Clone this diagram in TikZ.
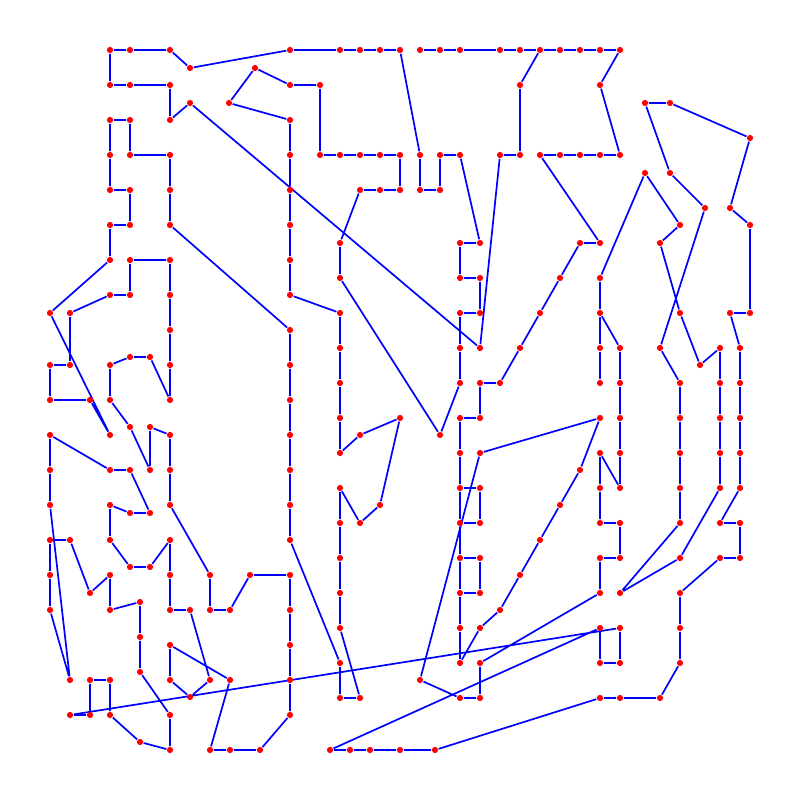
\documentclass[tikz,border=0pt]{standalone}
\usepackage{xcolor}
\usepackage{tikz}
\usetikzlibrary{backgrounds}
\definecolor{tourblue}{HTML}{0000FF}
\definecolor{stopred}{HTML}{FF0000}

\begin{document}
\begin{tikzpicture}[x=0.1mm,y=-0.1mm,
  stopdot/.style={circle,fill=stopred,inner sep=0pt,minimum size=0.62mm},
  tour/.style={tourblue,line width=0.17mm,line join=round}]
  \useasboundingbox (0,0) rectangle (800,800);
  % stops, in pixel positions
  \foreach \x/\y in {
    110/50,130/50,170/50,190/68,290/50,340/50,360/50,380/50,400/50,
    420/50,440/50,460/50,500/50,520/50,540/50,560/50,580/50,600/50,620/50,
    110/85,130/85,170/85,170/120,190/103,255/68,229/103,290/85,320/85,
    520/85,600/85,645/103,670/103,750/138,
    110/120,130/120,290/120,110/155,130/155,170/155,290/155,320/155,340/155,
    360/155,380/155,400/155,420/155,440/155,460/155,500/155,520/155,540/155,
    560/155,580/155,600/155,620/155,645/173,670/173,
    110/190,130/190,170/190,290/190,360/190,380/190,400/190,420/190,440/190,
    705/208,730/208,680/225,750/225,
    110/225,130/225,170/225,290/225,340/243,460/243,480/243,580/243,600/243,660/243,
    110/260,130/260,170/260,290/260,340/278,460/278,480/278,560/278,600/278,
    110/295,130/295,170/295,290/295,
    50/313,70/313,340/313,460/313,480/313,540/313,600/313,680/313,730/313,750/313,
    170/330,290/330,340/348,460/348,480/348,520/348,600/348,620/348,660/348,720/348,740/348,
    130/357,150/357,50/365,70/365,110/365,170/365,290/365,700/365,
    340/383,460/383,480/383,500/383,600/383,620/383,680/383,720/383,740/383,
    50/400,90/400,110/400,170/400,290/400,
    340/418,400/418,460/418,480/418,600/418,620/418,680/418,720/418,740/418,
    130/427,150/427,50/435,110/435,170/435,290/435,360/435,440/435,
    340/453,460/453,480/453,600/453,620/453,680/453,720/453,740/453,
    50/470,110/470,130/470,150/470,170/470,290/470,580/470,
    340/488,460/488,480/488,600/488,620/488,680/488,720/488,740/488,
    50/505,110/505,170/505,290/505,380/505,560/505,130/513,150/513,
    340/523,360/523,460/523,480/523,600/523,620/523,680/523,720/523,740/523,
    50/540,70/540,110/540,170/540,290/540,540/540,130/567,150/567,
    340/558,460/558,480/558,600/558,620/558,680/558,720/558,740/558,
    50/575,110/575,170/575,210/575,250/575,290/575,520/575,
    90/593,340/593,460/593,480/593,600/593,620/593,680/593,
    140/602,50/610,110/610,170/610,190/610,210/610,230/610,290/610,500/610,
    340/628,460/628,480/628,600/628,620/628,680/628,
    140/637,170/645,290/645,
    340/663,460/663,480/663,600/663,620/663,680/663,
    140/672,70/680,90/680,110/680,170/680,210/680,230/680,290/680,420/680,
    190/697,340/698,360/698,460/698,480/698,600/698,620/698,660/698,
    70/715,90/715,110/715,170/715,290/715,140/742,
    170/750,210/750,230/750,260/750,330/750,350/750,370/750,400/750,435/750}
    \node[stopdot] (n\x-\y) at (\x,\y) {};
  % the tour
  \begin{scope}[on background layer]
    \draw[tour] (n420-155) -- (n400-50) -- (n380-50) -- (n360-50) -- (n340-50)
      -- (n290-50) -- (n190-68) -- (n170-50) -- (n130-50) -- (n110-50)
      -- (n110-85) -- (n130-85) -- (n170-85) -- (n170-120) -- (n190-103)
      -- (n480-348) -- (n500-155) -- (n520-155) -- (n520-85) -- (n540-50)
      -- (n560-50) -- (n580-50) -- (n600-50) -- (n620-50) -- (n600-85)
      -- (n620-155) -- (n600-155) -- (n580-155) -- (n560-155) -- (n540-155)
      -- (n600-243) -- (n580-243) -- (n560-278) -- (n540-313) -- (n520-348)
      -- (n500-383) -- (n480-383) -- (n480-418) -- (n460-418) -- (n460-453)
      -- (n460-488) -- (n460-523) -- (n460-558) -- (n460-593) -- (n460-628)
      -- (n460-663) -- (n480-628) -- (n500-610) -- (n520-575) -- (n540-540)
      -- (n560-505) -- (n580-470) -- (n600-418) -- (n480-453) -- (n420-680)
      -- (n460-698) -- (n480-698) -- (n480-663) -- (n600-593) -- (n600-558)
      -- (n620-558) -- (n620-523) -- (n600-523) -- (n600-488) -- (n600-453)
      -- (n620-488) -- (n620-453) -- (n620-418) -- (n620-383) -- (n620-348)
      -- (n600-313) -- (n600-278) -- (n645-173) -- (n680-225) -- (n660-243)
      -- (n680-313) -- (n700-365) -- (n720-348) -- (n720-383) -- (n720-418)
      -- (n720-453) -- (n720-488) -- (n680-558) -- (n620-593) -- (n680-523)
      -- (n680-488) -- (n680-453) -- (n680-418) -- (n680-383) -- (n660-348)
      -- (n705-208) -- (n670-173) -- (n645-103) -- (n670-103) -- (n750-138)
      -- (n730-208) -- (n750-225) -- (n750-313) -- (n730-313) -- (n740-348)
      -- (n740-383) -- (n740-418) -- (n740-453) -- (n740-488) -- (n720-523)
      -- (n740-523) -- (n740-558) -- (n720-558) -- (n680-593) -- (n680-628)
      -- (n680-663) -- (n660-698) -- (n620-698) -- (n600-698) -- (n435-750)
      -- (n400-750) -- (n370-750) -- (n350-750) -- (n330-750) -- (n600-628)
      -- (n600-663) -- (n620-663) -- (n620-628) -- (n70-715) -- (n90-715)
      -- (n90-680) -- (n110-680) -- (n110-715) -- (n140-742) -- (n170-750)
      -- (n170-715) -- (n140-672) -- (n140-637) -- (n140-602) -- (n110-610)
      -- (n110-575) -- (n90-593) -- (n70-540) -- (n50-540) -- (n50-575)
      -- (n50-610) -- (n70-680) -- (n50-505) -- (n50-470) -- (n50-435)
      -- (n110-470) -- (n130-470) -- (n150-513) -- (n130-513) -- (n110-505)
      -- (n110-540) -- (n130-567) -- (n150-567) -- (n170-540) -- (n170-575)
      -- (n170-610) -- (n190-610) -- (n210-680) -- (n190-697) -- (n170-680)
      -- (n170-645) -- (n230-680) -- (n210-750) -- (n230-750) -- (n260-750)
      -- (n290-715) -- (n290-680) -- (n290-645) -- (n290-610) -- (n290-575)
      -- (n250-575) -- (n230-610) -- (n210-610) -- (n210-575) -- (n170-505)
      -- (n170-470) -- (n170-435) -- (n150-427) -- (n150-470) -- (n130-427)
      -- (n110-400) -- (n110-365) -- (n130-357) -- (n150-357) -- (n170-400)
      -- (n170-365) -- (n170-330) -- (n170-295) -- (n170-260) -- (n130-260)
      -- (n130-295) -- (n110-295) -- (n70-313) -- (n70-365) -- (n50-365)
      -- (n50-400) -- (n90-400) -- (n110-435) -- (n50-313) -- (n110-260)
      -- (n110-225) -- (n130-225) -- (n130-190) -- (n110-190) -- (n110-155)
      -- (n110-120) -- (n130-120) -- (n130-155) -- (n170-155) -- (n170-190)
      -- (n170-225) -- (n290-330) -- (n290-365) -- (n290-400) -- (n290-435)
      -- (n290-470) -- (n290-505) -- (n290-540) -- (n340-663) -- (n340-698)
      -- (n360-698) -- (n340-628) -- (n340-593) -- (n340-558) -- (n340-523)
      -- (n340-488) -- (n360-523) -- (n380-505) -- (n400-418) -- (n360-435)
      -- (n340-453) -- (n340-418) -- (n340-383) -- (n340-348) -- (n340-313)
      -- (n290-295) -- (n290-260) -- (n290-225) -- (n290-190) -- (n290-155)
      -- (n290-120) -- (n229-103) -- (n255-68) -- (n290-85) -- (n320-85)
      -- (n320-155) -- (n340-155) -- (n360-155) -- (n380-155) -- (n400-155)
      -- (n400-190) -- (n380-190) -- (n360-190) -- (n340-243) -- (n340-278)
      -- (n440-435) -- (n460-383) -- (n460-348) -- (n460-313) -- (n480-313)
      -- (n480-278) -- (n460-278) -- (n460-243) -- (n480-243) -- (n460-155)
      -- (n440-155) -- (n440-190) -- (n420-190) -- (n420-155);
    % side branches
    \draw[tour] (n540-50) -- (n520-50) -- (n500-50) -- (n460-50) -- (n440-50) -- (n420-50);
    \draw[tour] (n600-313) -- (n600-348) -- (n600-383);
    \draw[tour] (n460-488) -- (n480-488) -- (n480-523) -- (n460-523);
    \draw[tour] (n460-558) -- (n480-558) -- (n480-593) -- (n460-593);
  \end{scope}
\end{tikzpicture}
\end{document}
